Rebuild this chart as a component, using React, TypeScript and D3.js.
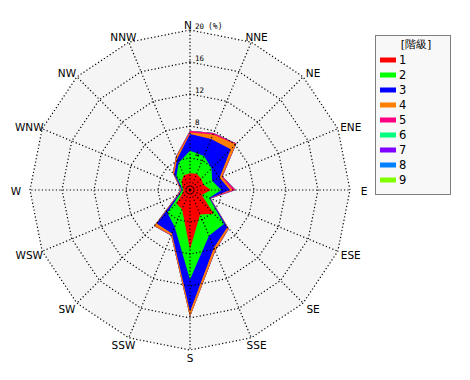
import React from "react";
import * as d3 from "d3";

const directions = ["N","NNE","NE","ENE","E","ESE","SE","SSE","S","SSW","SW","WSW","W","WNW","NW","NNW"];
const classLabels = ["1","2","3","4","5","6","7","8","9"];
const classColors = ["#ff0000","#00ff00","#0000ff","#ff8000","#ff0080","#00ff80","#8000ff","#0080ff","#80ff00"];
const ringTicks = [4, 8, 12, 16, 20];

// frequency (%) per direction for each class
const class1 = [2.1,2.2,2.0,1.8,2.6,1.6,4.2,3.3,7.4,2.6,2.4,1.0,0.8,1.0,1.5,2.0];
const class2 = [2.8,2.4,1.8,1.2,1.3,1.0,1.8,2.9,3.8,2.4,1.6,0.4,0.2,0.2,0.9,1.7];
const class3 = [2.1,2.3,3.4,1.0,1.1,0.1,0.6,1.6,4.0,0.9,1.9,0.2,0.1,0.2,0.4,0.5];
const class4 = [0.2,0.6,0.9,0.3,0.3,0.0,0.2,0.4,0.6,0.2,0.4,0.1,0.1,0.1,0.2,0.3];
const class5 = [0.2,0.2,0.1,0.1,0.4,0.1,0.05,0.05,0.05,0.05,0.05,0.05,0.05,0.05,0.05,0.05];
const class6 = [0,0,0,0,0,0,0,0,0,0,0,0,0,0,0,0];
const class7 = [0,0,0,0,0,0,0,0,0,0,0,0,0,0,0,0];
const class8 = [0,0,0,0,0,0,0,0,0,0,0,0,0,0,0,0];
const class9 = [0,0,0,0,0,0,0,0,0,0,0,0,0,0,0,0];

const allClasses = [class1,class2,class3,class4,class5,class6,class7,class8,class9];

export default function App() {
  const cx = 190, cy = 190, R = 160;
  const r = d3.scaleLinear().domain([0, 20]).range([0, R]);
  const step = (2 * Math.PI) / directions.length;
  const ang = (i: number) => i * step;

  const cum: number[][] = [];
  allClasses.forEach((arr, k) => {
    cum.push(arr.map((v, i) => v + (k > 0 ? cum[k - 1][i] : 0)));
  });

  const radial = d3.lineRadial<number>()
    .angle((_, i) => ang(i))
    .radius((d) => r(d))
    .curve(d3.curveLinearClosed);

  const ringPath = (t: number) => radial(directions.map(() => t)) || "";

  const font = "'DejaVu Sans', sans-serif";
  const mono = "'DejaVu Sans Mono', monospace";
  const lrx = 174, lry = 167;

  return (
    <svg width={470} height={380} style={{ position: "absolute", left: 0, top: 0, background: "#fff" }}>
      <g transform={`translate(${cx},${cy})`}>
        <path d={ringPath(20)} fill="#f5f5f5" stroke="none" />
        {cum.slice().reverse().map((c, j) => {
          const k = cum.length - 1 - j;
          return <path key={k} d={radial(c) || ""} fill={classColors[k]} stroke="none" />;
        })}
        {ringTicks.map((t) => (
          <path key={t} d={ringPath(t)} fill="none" stroke="#000" strokeWidth={1.2} strokeDasharray="1.2,2.3" />
        ))}
        {directions.map((d, i) => (
          <line key={d} x1={0} y1={0} x2={r(20) * Math.sin(ang(i))} y2={-r(20) * Math.cos(ang(i))}
            stroke="#000" strokeWidth={1.2} strokeDasharray="1.2,2.3" />
        ))}
      </g>
      {ringTicks.map((t) => (
        <text key={t} x={cx + 5} y={cy - r(t) - 1.5} fontFamily={mono} fontSize={7.5} fill="#000">{t}</text>
      ))}
      <text x={cx + 18} y={cy - r(20) - 1.5} fontFamily={mono} fontSize={8} fill="#000">(%)</text>
      {directions.map((d, i) => (
        <text key={d}
          x={i === 0 ? cx - 2 : cx + lrx * Math.sin(ang(i))}
          y={i === 0 ? cy - r(20) - 5.5 : cy + 1 - lry * Math.cos(ang(i))}
          textAnchor="middle" dominantBaseline="central"
          fontFamily={font} fontSize={10.5} fill="#000">{d}</text>
      ))}
      <g>
        <rect x={375.5} y={35.5} width={75} height={159} fill="#f8f8f8" stroke="#000" strokeWidth={1} strokeDasharray="1,1" />
        <text x={416} y={44} textAnchor="middle" dominantBaseline="central" fontFamily={font} fontSize={11} fill="#000">[階級]</text>
        {classLabels.map((lab, k) => (
          <g key={lab}>
            <rect x={380} y={60 + k * 15 - 2.5} width={16} height={5} fill={classColors[k]} />
            <text x={399} y={60 + k * 15} dominantBaseline="central" fontFamily={font} fontSize={11.5} fill="#000">{lab}</text>
          </g>
        ))}
      </g>
    </svg>
  );
}
